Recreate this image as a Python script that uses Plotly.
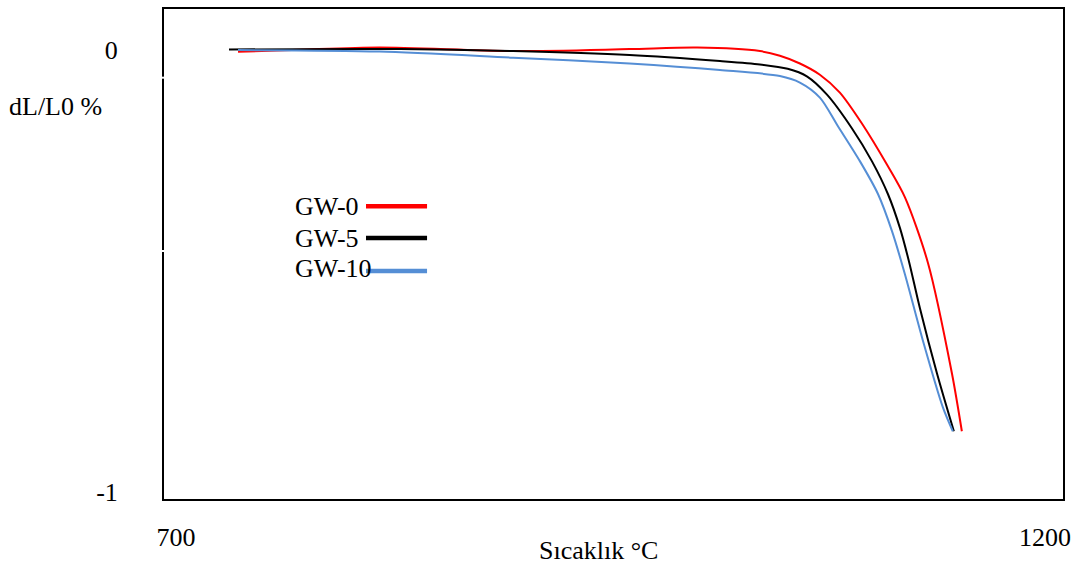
import plotly.graph_objects as go

# Dilatometer shrinkage curves (dL/L0 %) versus temperature
temp_gw0 = [735.7, 771, 817, 894, 961, 1000, 1036, 1047.5, 1059, 1070.5, 1082, 1094.7, 1109, 1119.4,
            1132.7, 1146.5, 1152.2]
dl_gw0 = [-0.0045, 0.0, 0.0052, -0.0029, 0.0016, 0.005, -0.0029, -0.0135, -0.0309, -0.0563, -0.0968,
          -0.1667, -0.259, -0.3333, -0.482, -0.732, -0.8626]

temp_gw5 = [730.5, 829, 894, 961, 1013, 1036, 1052, 1063, 1074.6, 1089, 1100.5, 1109.7, 1116.6,
            1121.7, 1128, 1137.9, 1147.6]
dl_gw5 = [0.0007, 0.0016, -0.0029, -0.0119, -0.0255, -0.0331, -0.043, -0.06, -0.1014, -0.1779, -0.2523,
          -0.3266, -0.4032, -0.4775, -0.5833, -0.732, -0.8626]

temp_gw10 = [735.7, 817, 894, 961, 1013, 1047.5, 1059, 1070.5, 1081, 1093.6, 1104, 1112, 1119.4,
             1129.8, 1141.3, 1147]
dl_gw10 = [-0.0007, -0.004, -0.018, -0.0309, -0.0457, -0.0592, -0.074, -0.108, -0.1734, -0.2523,
           -0.3266, -0.41, -0.5068, -0.6577, -0.8086, -0.8626]

series_names = ["GW-0", "GW-5", "GW-10"]
series_colors = ["#FF0000", "#000000", "#558ED5"]

x_ticks = [700, 1200]
y_ticks = [0, -1]

FONT = "Liberation Serif"

fig = go.Figure()
for name, xs, ys, col in zip(series_names,
                              [temp_gw0, temp_gw5, temp_gw10],
                              [dl_gw0, dl_gw5, dl_gw10],
                              series_colors):
    fig.add_trace(go.Scatter(x=xs, y=ys, mode="lines", name=name,
                             line=dict(color=col, width=2, shape="spline", smoothing=0.8),
                             showlegend=False))

fig.update_layout(
    width=1079, height=570,
    margin=dict(l=164, r=16, t=7, b=71),
    paper_bgcolor="white", plot_bgcolor="white",
    font=dict(family=FONT, size=26, color="black"),
    xaxis=dict(range=[693.1, 1210.4], tickvals=x_ticks, ticktext=[str(v) for v in x_ticks],
               showgrid=False, zeroline=False, showline=True, linecolor="black", linewidth=2,
               mirror=True, ticks="", ticklabelstandoff=14,
               tickfont=dict(family=FONT, size=26)),
    yaxis=dict(range=[-1.0158, 0.0923], tickvals=y_ticks, ticktext=["0", "-1"],
               showgrid=False, zeroline=False, showline=True, linecolor="black", linewidth=2,
               mirror=True, ticks="", ticklabelstandoff=39,
               tickfont=dict(family=FONT, size=26)),
)

# small breaks in the left axis line
for yv in [-0.063, -0.455]:
    fig.add_shape(type="line", xref="paper", yref="y", x0=-0.004, x1=0.004, y0=yv, y1=yv,
                  line=dict(color="white", width=2), layer="above")

# axis titles
fig.add_annotation(text="Sıcaklık °C", xref="paper", yref="paper", x=0.4828, y=-0.1057,
                   showarrow=False, font=dict(family=FONT, size=26), xanchor="center", yanchor="middle")
fig.add_annotation(text="dL/L0 %", xref="paper", yref="paper", x=-0.121, y=0.8008,
                   showarrow=False, font=dict(family=FONT, size=26), xanchor="center", yanchor="middle")

# legend: label text followed by a line sample
legend_text_y = [0.5976, 0.5325, 0.4695]
legend_line_y = [0.5976, 0.5325, 0.4654]
for name, col, ty, ly in zip(series_names, series_colors, legend_text_y, legend_line_y):
    fig.add_annotation(text=name, xref="paper", yref="paper", x=0.1435, y=ty,
                       showarrow=False, xanchor="left", yanchor="middle",
                       font=dict(family=FONT, size=26))
    fig.add_shape(type="line", xref="paper", yref="paper", x0=0.2247, x1=0.2926, y0=ly, y1=ly,
                  line=dict(color=col, width=4.5), layer="above")

fig.write_html("out.html")
